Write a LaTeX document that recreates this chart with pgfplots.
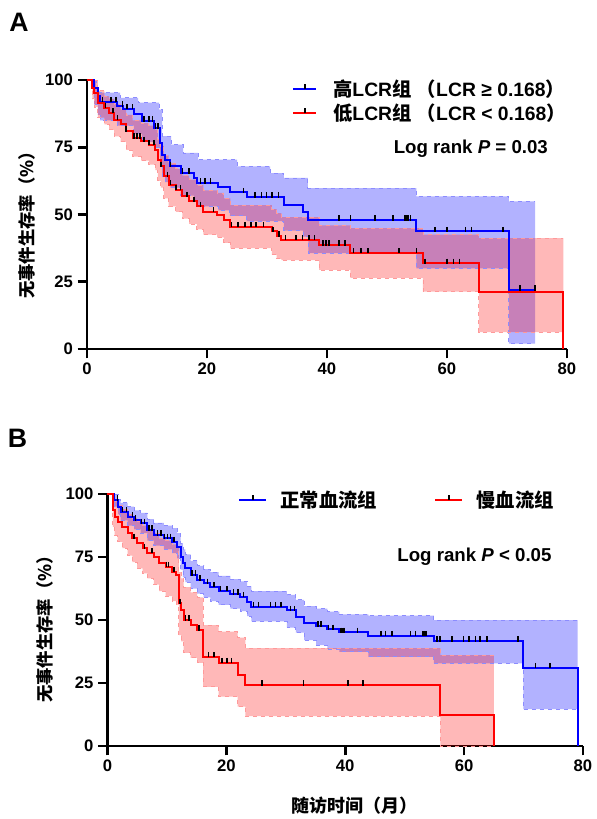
\documentclass[border=0pt]{standalone}
\usepackage{fontspec}
\setmainfont{Liberation Sans}
\newfontfamily\cjk{Noto Sans CJK SC}
\usepackage{pgfplots}
\pgfplotsset{compat=1.18}
\usepgfplotslibrary{fillbetween}
\newcommand{\zh}[1]{{\cjk #1}}
\pgfplotsset{
 km/.style={
  scale only axis, axis lines=left, axis line style={-, line width=2.1pt, black},
  xmin=0,xmax=80,ymin=0,ymax=100, xtick={0,20,40,60,80}, ytick={0,25,50,75,100},
  tick align=outside, major tick length=7pt, tick style={line width=2.1pt, black},
  ticklabel style={font=\fontsize{12.5}{14}\selectfont\bfseries},
  /pgf/number format/assume math mode=true,
  clip=false,
  legend style={draw=none, fill=none, inner sep=0pt, font=\fontsize{14.5}{16}\selectfont\bfseries, nodes={inner sep=1pt}},
  legend cell align=left,
  ylabel style={font=\fontsize{13}{15}\selectfont\bfseries, anchor=center},
 },
 bandBl/.style={const plot, dashed, draw=blue!45, line width=0.6pt, forget plot},
 bandRd/.style={const plot, dashed, draw=red!40, line width=0.6pt, forget plot},
 cens/.style={only marks, mark=|, black, mark size=2pt, mark options={line width=1.2pt, yshift=1.5pt}, forget plot},
 kmB/.style={const plot, blue, line width=1.5pt},
 kmR/.style={const plot, red, line width=1.5pt},
}
\begin{document}
\begin{tikzpicture}
\node[font=\fontsize{20}{22}\selectfont\bfseries] at (14.25pt,-16.5pt) {A};
\node[font=\fontsize{20}{22}\selectfont\bfseries] at (13.1pt,-328.9pt) {B};
% ---------------- Panel A
\begin{axis}[km, at={(65.25pt,-261.75pt)}, anchor=south west, width=360pt, height=201.75pt,
  ylabel={\zh{无事件生存率（\%）}},
  ylabel style={at={(axis description cs:-0.125,0.476)}},
  legend style={at={(axis cs:34.2,92.1)}, anchor=west, row sep=2pt, /tikz/every odd column/.append style={column sep=11pt}},
  legend image code/.code={\draw[#1] (0pt,0pt) -- (17pt,0pt); \draw[black,line width=1.1pt] (8.5pt,0pt) -- (8.5pt,4pt);},
]
% blue band
\addplot[bandBl, name path=au] coordinates {(0,100) (1.2,100) (1.5,97) (2,95.3) (5.5,93.4) (8.5,91.6) (12,89) (12.5,79.1) (14,76) (16,72.9) (18.5,70.4) (25,67.9) (30.5,65.4) (32.8,63.6) (36.8,59.8) (54.9,56.7) (70.3,54.9) (74.7,54.9)};
\addplot[bandBl, name path=al] coordinates {(0,100) (1.2,91) (1.8,87) (2.2,85) (5,83) (7.8,80) (9.2,77) (11.2,75) (12.2,69) (12.5,64) (13,62) (13.9,60) (15.6,57) (17.8,55) (18.3,53) (21.9,51.5) (23.8,49.5) (26.6,47.5) (32.8,44) (36,41.8) (36.9,35.6) (54.9,30) (70.3,2) (74.7,2)};
\addplot[blue, fill opacity=0.3, draw=none, forget plot] fill between[of=au and al];
% red band
\addplot[bandRd, name path=bu] coordinates {(0,100) (1,100) (1.8,96) (2.9,94) (3.7,93) (4.5,91) (5.6,89) (6.5,87) (7.6,85) (9,84) (10.3,83) (11.4,81.5) (11.8,78) (12.3,75.5) (12.8,72) (13.6,69) (14.8,67) (15.9,64.5) (17,63) (18.3,61) (19.4,59) (21.7,58) (22.8,56) (23.9,53.5) (30.8,52) (31.6,50.5) (32.4,49) (38.7,46) (43.9,44.9) (56,42.5) (65.3,41.2) (79.4,41.2)};
\addplot[bandRd, name path=bl] coordinates {(0,100) (0.9,93) (1.2,90) (1.8,86) (2.9,83.5) (3.7,81.5) (4.5,79) (5.6,77) (6.5,74) (7.6,71.5) (9,70) (10.3,68.5) (11.4,66.5) (11.8,62.5) (12.3,60) (12.8,56) (13.6,53) (14.8,51) (15.9,48.5) (17,46.5) (18.3,44.5) (19.4,42.5) (21.7,41.5) (22.8,39.5) (23.9,37.5) (30.8,35) (31.6,33.5) (32.4,33) (38.7,29.4) (43.9,26.4) (56,21.3) (65.3,6.3) (79.4,6.3)};
\addplot[red, fill opacity=0.28, draw=none, forget plot] fill between[of=bu and bl];
% curves
\addplot[kmB] coordinates {(0,100) (1.2,97) (1.8,94) (2.2,92) (5,90.3) (6,89.3) (7.8,87.2) (9.2,84.7) (11.2,82.2) (12.2,76.6) (12.5,72.3) (13,70.4) (13.9,67.9) (15.6,65.4) (17.8,63.6) (18.3,61.7) (21.9,60.2) (23.8,58.2) (26.6,56.5) (32.8,53.6) (36,51.1) (36.9,48) (54.9,43.7) (70.3,21.9) (74.7,21.9)};
\addlegendentry{\zh{高}LCR\zh{组} \zh{（}LCR ≥ 0.168\zh{）}}
\addplot[kmR] coordinates {(0,100) (0.9,97) (1.2,95.3) (1.8,91.6) (2.9,89.7) (3.7,87.8) (4.5,85.3) (5.6,83.5) (6.5,81) (7.6,78.5) (9,77.2) (10.3,76) (11.4,74.1) (11.8,70.4) (12.3,67.9) (12.8,64.2) (13.6,61.1) (14.8,59.2) (15.9,56.7) (17,54.9) (18.3,53) (19.4,51.1) (21.7,49.9) (22.8,48) (23.9,45.5) (30.8,43.7) (31.6,42) (32.4,40.6) (38.7,38.7) (43.9,35.8) (56,31.9) (65.3,21.3) (79.4,21.3) (79.4,0)};
\addlegendentry{\zh{低}LCR\zh{组} \zh{（}LCR < 0.168\zh{）}}
% censor marks
\addplot[cens] coordinates {(2.6,92)(4,92)(4.8,92)(5.9,90.3)(6.7,89.3)(7.6,89.3)(9.5,84.7)(10.3,84.7)(10.9,84.7)(11.4,82.2)(11.8,82.2)(13.9,67.9)(15.9,65.4)(17,65.4)(18.9,61.7)(19.7,61.7)(20.6,61.7)(26.1,58.2)(28,56.5)(29.1,56.5)(29.9,56.5)(30.8,56.5)(31.9,56.5)(42,48)(43.9,48)(48,48)(51,48)(53,48)(53.3,48)(53.6,48)(53.9,48)(58,43.7)(60,43.7)(63.1,43.7)(64.1,43.7)(69.3,43.7)(72.2,21.9)(74.7,21.9)};
\addplot[cens] coordinates {(3.1,89.7)(4.3,87.8)(5.1,85.3)(6.5,81)(7.8,78.5)(8.3,78.5)(8.8,78.5)(9.5,77.2)(10.3,76)(11.2,76)(12.3,67.9)(13.4,64.2)(13.9,61.1)(14.8,59.2)(15.6,59.2)(16.7,56.7)(17.8,54.9)(18.9,53)(21.1,51.1)(24.1,45.5)(25.2,45.5)(26.3,45.5)(27.3,45.5)(28.2,45.5)(29.4,45.5)(31,43.7)(32,42)(33.1,40.6)(34.8,40.6)(35.9,40.6)(37,40.6)(37.9,40.6)(39.3,38.7)(39.8,38.7)(40.3,38.7)(42,38.7)(43,38.7)(44.4,35.8)(45.7,35.8)(46.8,35.8)(52,35.8)(54.9,35.8)(56.3,31.9)(60,31.9)(61.1,31.9)(62.1,31.9)};
\node[anchor=east, font=\fontsize{14}{16}\selectfont\bfseries] at (axis cs:77.6,74.3) {Log rank \textit{P} = 0.03};
\end{axis}
% ---------------- Panel B
\begin{axis}[km, at={(80.6pt,-559.5pt)}, anchor=south west, width=356.6pt, height=189pt,
  ylabel={\zh{无事件生存率（\%）}},
  ylabel style={at={(axis description cs:-0.131,0.48)}},
  xlabel={\zh{随访时间（月）}},
  xlabel style={at={(axis description cs:0.52,-0.236)}, anchor=center, font=\fontsize{13.5}{15}\selectfont\bfseries},
  legend columns=2,
  legend style={at={(axis cs:22,97.6)}, anchor=west, /tikz/every odd column/.append style={column sep=9pt}, /tikz/every even column/.append style={column sep=42pt}},
  legend image code/.code={\draw[#1] (0pt,0pt) -- (20pt,0pt); \draw[black,line width=1.1pt] (10pt,0pt) -- (10pt,4pt);},
]
\addplot[bandBl, name path=cu] coordinates {(0,100) (1.1,100) (1.8,98) (2.2,96.5) (3.4,95) (4.5,93.5) (5.6,92.5) (6.7,90) (7.8,88.5) (9.5,87.5) (10.9,86.5) (11.7,84.5) (12.3,80.5) (12.7,78) (13.1,76) (14,73.5) (15.1,71.5) (16.2,70.2) (17.3,69) (18.7,67.5) (20.7,66.2) (22.3,65.3) (23.5,63.3) (24.2,61.5) (30.2,60) (31.7,58) (33.1,55.5) (35.1,54.5) (37,53.3) (39,52.2) (43.9,51.7) (54.9,50) (79.1,50)};
\addplot[bandBl, name path=cl] coordinates {(0,100) (1.1,95) (1.8,92) (2.2,89.5) (3.4,87.5) (4.5,86) (5.6,84.5) (6.7,81.5) (7.8,79.5) (9.5,78) (10.9,76.5) (11.7,74.5) (12.3,70) (12.7,67) (13.1,65) (14,62.5) (15.1,60.5) (16.2,59) (17.3,57.5) (18.7,56) (20.7,54.5) (22.3,53.5) (23.5,51.5) (24.2,49.5) (30.2,47) (31.7,45) (33.1,42) (35.1,40) (37,38.5) (39,37.4) (43.9,35.4) (54.9,32.8) (70,14.6) (79.1,14.6)};
\addplot[blue, fill opacity=0.3, draw=none, forget plot] fill between[of=cu and cl];
\addplot[bandRd, name path=du] coordinates {(0,100) (0.9,98) (1.2,97) (1.7,95.5) (2.5,94) (3.4,92) (4.2,90.5) (5,89) (5.9,87.5) (6.7,86) (7.8,84.5) (8.7,82.5) (9.8,81.5) (10.9,80) (11.6,79) (12,69) (12.4,66.5) (12.8,63) (14,61) (15.1,59) (16.1,48) (18.7,45.4) (21.9,43) (23.2,38.8) (56,36.1) (65,36.1)};
\addplot[bandRd, name path=dl] coordinates {(0,100) (0.9,87) (1.2,83.5) (1.7,81) (2.5,78.5) (3.4,75.5) (4.2,73) (5,70.5) (5.9,68.5) (6.7,66.5) (7.8,64) (8.7,61.5) (9.8,59.5) (10.9,57.5) (11.6,56) (12,44) (12.4,41.5) (12.8,37) (14,35) (15.1,33) (16.1,23.5) (18.7,19.6) (21.9,15.6) (23.2,11.9) (56,0) (65,0)};
\addplot[red, fill opacity=0.28, draw=none, forget plot] fill between[of=du and dl];
\addplot[kmB] coordinates {(0,100) (1.1,97.6) (1.8,95) (2.2,93) (3.4,91) (4.5,89.7) (5.6,88.4) (6.7,85.7) (7.8,83.7) (9.5,82.4) (10.9,81.1) (11.7,79.1) (12.3,75.1) (12.7,72.5) (13.1,70.5) (14,67.9) (15.1,65.9) (16.2,64.6) (17.3,63.2) (18.7,61.6) (20.7,60.3) (22.3,59.3) (23.5,57.3) (24.2,55.3) (30.2,53.8) (31.7,51.3) (33.1,48.7) (35.1,47.6) (37,46.3) (39,45.1) (43.9,43.8) (54.9,41.7) (70,31.1) (79.1,31.1) (79.1,0)};
\addlegendentry{\zh{正常血流组}}
\addplot[kmR] coordinates {(0,100) (0.9,93.5) (1.2,91) (1.7,89) (2.5,87) (3.4,84.4) (4.2,82.4) (5,80.4) (5.9,78.4) (6.7,76.7) (7.8,74.9) (8.7,72.5) (9.8,71.2) (10.9,69.2) (11.6,67.9) (12,56.6) (12.4,54) (12.8,50) (14,48) (15.1,46) (16.1,35.4) (18.7,33.1) (21.9,28.2) (23.2,24.2) (56,12.3) (65,12.3) (65,0)};
\addlegendentry{\zh{慢血流组}}
\addplot[cens] coordinates {(1.7,97.6)(2.5,93)(3.2,93)(4.2,91)(4.7,89.7)(5.7,88.4)(6.2,88.4)(7,85.7)(7.5,85.7)(8.4,83.7)(9,83.7)(9.6,82.4)(10.1,82.4)(10.6,82.4)(11.2,81.1)(14.2,67.9)(14.8,67.9)(15.6,65.9)(16.8,64.6)(17.9,63.2)(19,61.6)(20.1,61.6)(21.2,60.3)(22,60.3)(22.9,59.3)(24.6,55.3)(25.4,55.3)(27.4,55.3)(28.3,55.3)(29.2,55.3)(30.8,53.8)(31.5,53.8)(35.4,47.6)(35.9,47.6)(37.2,46.3)(37.9,46.3)(39.3,45.1)(39.6,45.1)(39.9,45.1)(42.1,45.1)(46,43.8)(46.8,43.8)(47.9,43.8)(51,43.8)(51.8,43.8)(53,43.8)(53.3,43.8)(53.6,43.8)(55.4,41.7)(56,41.7)(58,41.7)(59.9,41.7)(60.8,41.7)(61.9,41.7)(62.7,41.7)(63.9,41.7)(69.1,41.7)(72,31.1)(74.5,31.1)};
\addplot[cens] coordinates {(4.5,82.4)(6.2,78.4)(7.5,76.7)(9.9,71.2)(10.3,71.2)(11.2,69.2)(12.2,56.6)(13.1,50)(13.7,50)(15.4,46)(17,35.4)(17.9,35.4)(19.3,33.1)(20.1,33.1)(20.9,33.1)(26,24.2)(33,24.2)(40.5,24.2)(43,24.2)};
\node[anchor=east, font=\fontsize{14}{16}\selectfont\bfseries] at (axis cs:75.5,75) {Log rank \textit{P} < 0.05};
\end{axis}
\path (0,0) rectangle (446.25pt,-614.25pt);
\end{tikzpicture}
\end{document}
